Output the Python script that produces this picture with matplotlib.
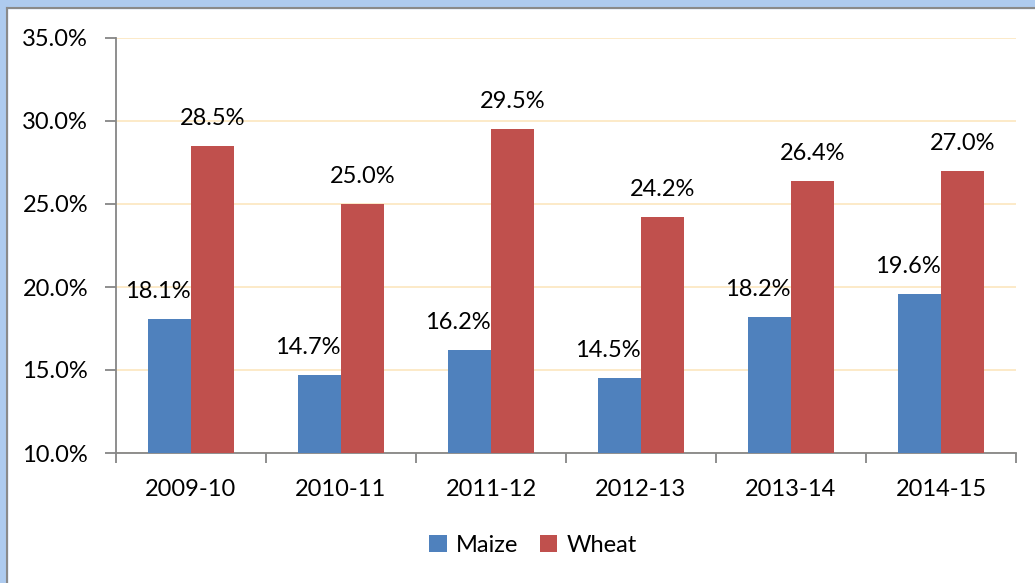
import numpy as np
import matplotlib.pyplot as plt
from matplotlib.patches import Rectangle

years = ['2009-10', '2010-11', '2011-12', '2012-13', '2013-14', '2014-15']
maize = [18.1, 14.7, 16.2, 14.5, 18.2, 19.6]
wheat = [28.5, 25.0, 29.5, 24.2, 26.4, 27.0]

plt.rcParams['font.family'] = ['Lato', 'DejaVu Sans']
fs = 17

fig = plt.figure(figsize=(10.35, 5.83), dpi=100)
ax = fig.add_axes([116/1035, 1-453/583, 900/1035, 415/583])

x = np.arange(len(years))
w = 0.287
b1 = ax.bar(x - w/2, maize, w, color='#4F81BD', label='Maize', zorder=3)
b2 = ax.bar(x + w/2, wheat, w, color='#C0504D', label='Wheat', zorder=3)

for xi, v in zip(x, maize):
    ax.annotate('%.1f%%' % v, (xi - w/2, v), xytext=(-12, 17), textcoords='offset pixels',
                ha='center', va='bottom', fontsize=fs)
for xi, v in zip(x, wheat):
    ax.annotate('%.1f%%' % v, (xi + w/2, v), xytext=(0, 17), textcoords='offset pixels',
                ha='center', va='bottom', fontsize=fs)

ax.set_ylim(10, 35)
ax.set_xlim(-0.5, len(years) - 0.5)
ax.set_yticks(np.arange(10, 36, 5))
ax.set_yticklabels(['%.1f%%' % t for t in np.arange(10, 36, 5)], fontsize=fs)
ax.grid(axis='y', color='#FCE8C4', linewidth=1.3, zorder=0)

ax.set_xticks(x)
ax.set_xticklabels(years, fontsize=fs)
ax.set_xticks(np.arange(-0.5, len(years)), minor=True)
ax.tick_params(axis='x', which='major', length=0, pad=19)
ax.tick_params(axis='x', which='minor', length=7, color='#868686', width=1.3)
ax.tick_params(axis='y', length=8, color='#868686', width=1.3, pad=12)

for s in ['top', 'right']:
    ax.spines[s].set_visible(False)
for s in ['left', 'bottom']:
    ax.spines[s].set_color('#868686')
    ax.spines[s].set_linewidth(1.3)

fig.legend(handles=[b1, b2], loc='center', bbox_to_anchor=(533/1035, 1-545/583),
           ncol=2, frameon=False, fontsize=fs, handlelength=0.75, handleheight=0.75,
           columnspacing=0.9, handletextpad=0.4)

# window frame of the original screenshot
fig.patches.append(Rectangle((0, 1-8/583), 1, 8/583, transform=fig.transFigure,
                             color='#AECBEF', zorder=0))
fig.patches.append(Rectangle((0, 0), 7/1035, 1, transform=fig.transFigure,
                             color='#AECBEF', zorder=0))
fig.add_artist(plt.Line2D([7/1035, 1], [1-8/583, 1-8/583], transform=fig.transFigure,
                          color='#8A8A8A', linewidth=1.5))
fig.add_artist(plt.Line2D([7/1035, 7/1035], [0, 1-8/583], transform=fig.transFigure,
                          color='#8A8A8A', linewidth=1.5))

fig.savefig('out.png', dpi=100)
